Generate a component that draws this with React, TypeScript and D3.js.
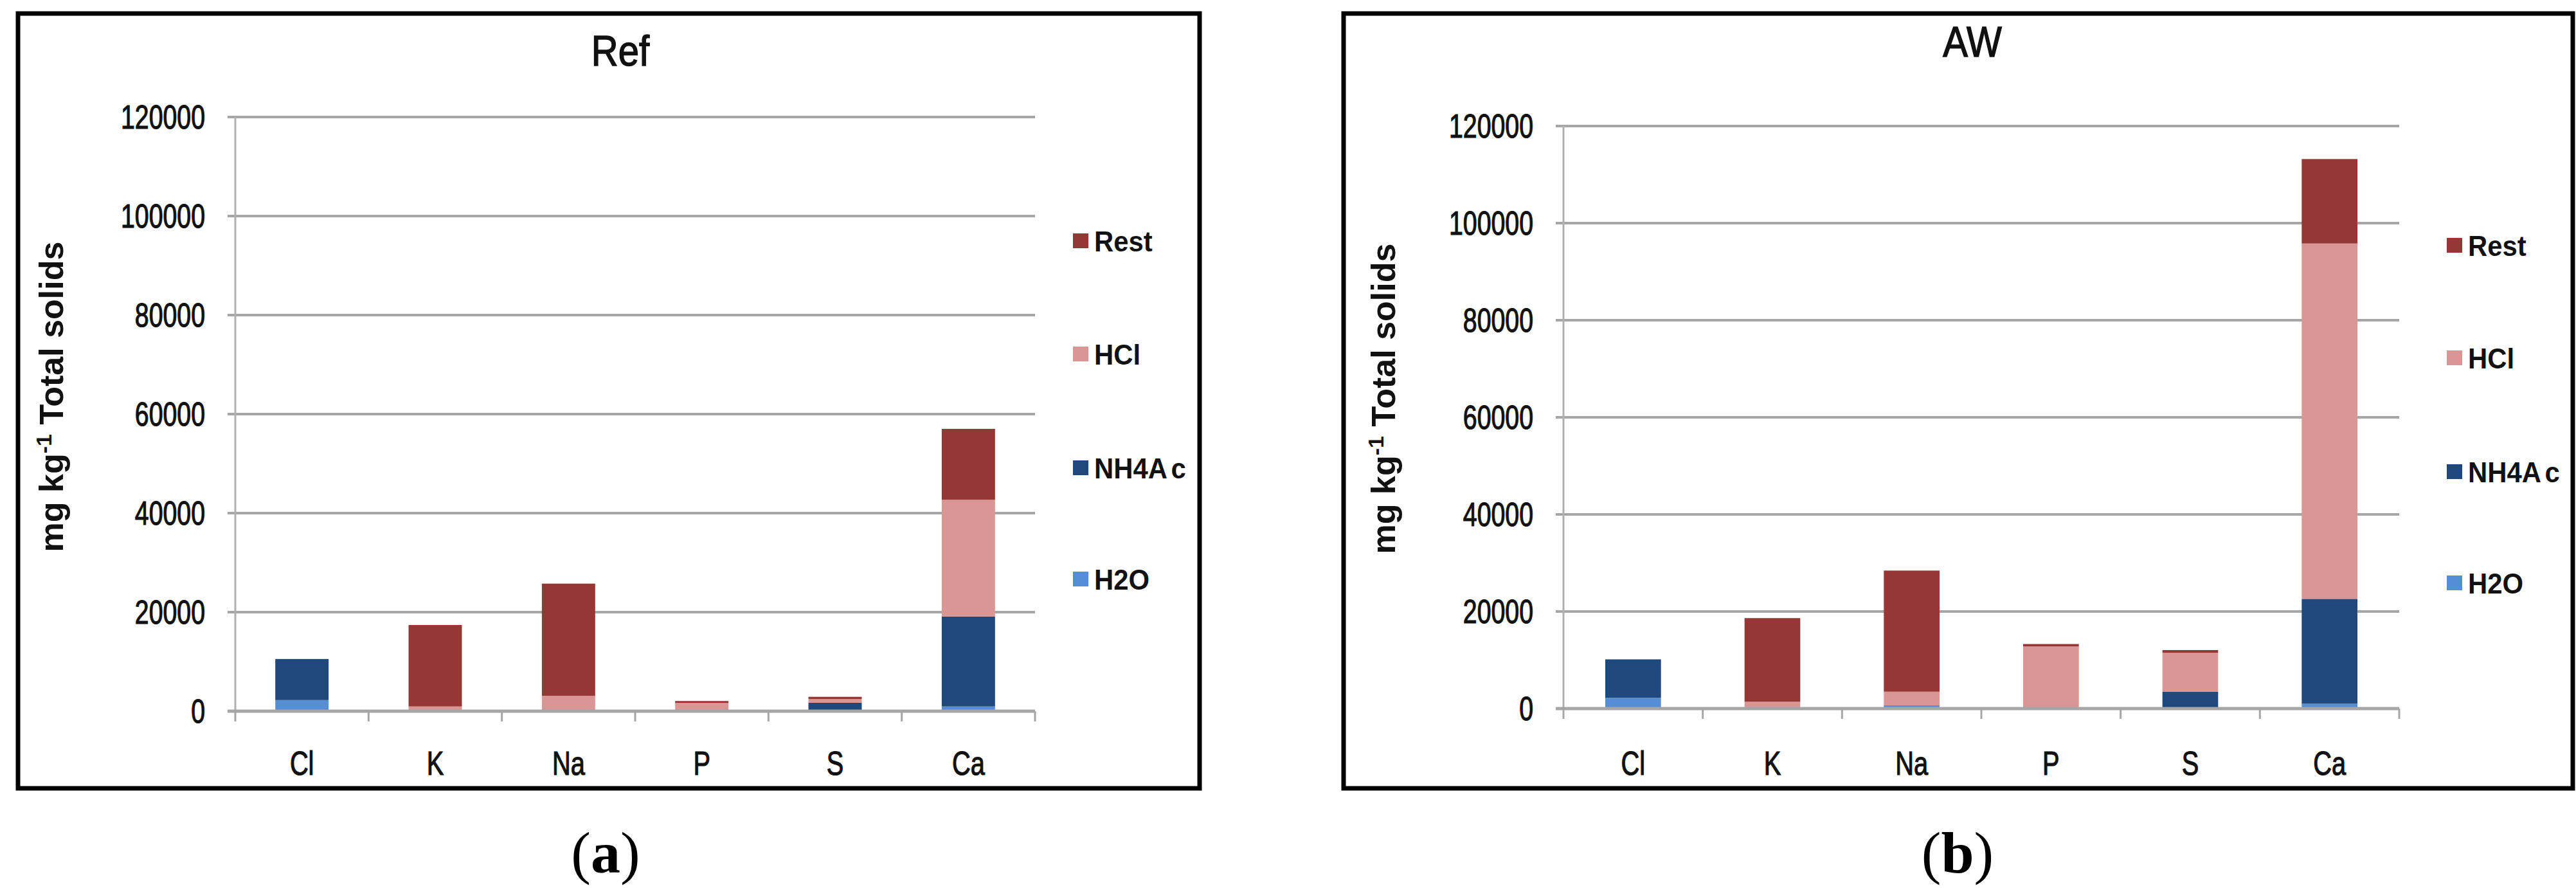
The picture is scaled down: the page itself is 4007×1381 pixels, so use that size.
import { useEffect, useRef } from 'react'
import * as d3 from 'd3'

const elements = ['Cl', 'K', 'Na', 'P', 'S', 'Ca']
const fractions = ['H2O', 'NH4Ac', 'HCl', 'Rest']
const legendOrder = ['Rest', 'HCl', 'NH4Ac', 'H2O']
const yTicks = [0, 20000, 40000, 60000, 80000, 100000, 120000]

// Ref sludge, mg/kg total solids per extraction step
const refH2O = [2240, 0, 0, 0, 0, 950]
const refNH4Ac = [8300, 0, 0, 0, 1700, 18170]
const refHCl = [0, 950, 3100, 1650, 750, 23580]
const refRest = [0, 16450, 22660, 400, 450, 14320]

// AW sludge
const awH2O = [2200, 0, 660, 0, 0, 1000]
const awNH4Ac = [7940, 0, 0, 0, 3500, 21600]
const awHCl = [0, 1410, 2820, 12800, 8000, 73200]
const awRest = [0, 17230, 24950, 500, 550, 17400]

const colors: Record<string, string> = {
  H2O: '#558ed5',
  NH4Ac: '#1f487c',
  HCl: '#d99694',
  Rest: '#953735',
}

interface PanelLayout {
  title: string
  label: string
  frame: [number, number, number, number]
  left: number
  right: number
  top: number
  bottom: number
  titleX: number
  titleY: number
  yLabelX: number
  yLabelY: number
  legendX: number
  legendYs: number[]
  tagX: number
}

const panels: { layout: PanelLayout; series: number[][] }[] = [
  {
    layout: {
      title: 'Ref',
      label: 'a',
      frame: [28, 21, 1866, 1226],
      left: 366,
      right: 1610,
      top: 182,
      bottom: 1106,
      titleX: 965,
      titleY: 102,
      yLabelX: 80,
      yLabelY: 617,
      legendX: 1669,
      legendYs: [375, 551, 728, 901],
      tagX: 942,
    },
    series: [refH2O, refNH4Ac, refHCl, refRest],
  },
  {
    layout: {
      title: 'AW',
      label: 'b',
      frame: [2090, 21, 4002, 1226],
      left: 2432,
      right: 3732,
      top: 196,
      bottom: 1102,
      titleX: 3068,
      titleY: 88,
      yLabelX: 2152,
      yLabelY: 620,
      legendX: 3806,
      legendYs: [382, 557, 734, 907],
      tagX: 3045,
    },
    series: [awH2O, awNH4Ac, awHCl, awRest],
  },
]

const sans = 'Liberation Sans, Arial, sans-serif'

function drawPanel(
  svg: d3.Selection<SVGSVGElement, unknown, null, undefined>,
  layout: PanelLayout,
  series: number[][]
) {
  const g = svg.append('g')
  const [fx0, fy0, fx1, fy1] = layout.frame

  g.append('rect')
    .attr('x', fx0)
    .attr('y', fy0)
    .attr('width', fx1 - fx0)
    .attr('height', fy1 - fy0)
    .attr('fill', '#fff')
    .attr('stroke', '#000')
    .attr('stroke-width', 7)

  const x = d3
    .scaleBand<string>()
    .domain(elements)
    .range([layout.left, layout.right])
    .paddingInner(0.6)
    .paddingOuter(0.3)

  const y = d3.scaleLinear().domain([0, 120000]).range([layout.bottom, layout.top])

  // gridlines
  g.selectAll('.grid')
    .data(yTicks.filter((t) => t > 0))
    .enter()
    .append('line')
    .attr('x1', layout.left - 12)
    .attr('x2', layout.right)
    .attr('y1', (d) => y(d))
    .attr('y2', (d) => y(d))
    .style('stroke', '#a6a6a6')
    .style('stroke-width', 4)

  // y axis
  g.append('line')
    .attr('x1', layout.left)
    .attr('x2', layout.left)
    .attr('y1', y(120000))
    .attr('y2', y(0))
    .style('stroke', '#b0b0b0')
    .style('stroke-width', 3)

  g.selectAll('.ytick')
    .data(yTicks)
    .enter()
    .append('text')
    .attr('transform', (d) => `translate(${layout.left - 47},${y(d) + 18}) scale(0.77,1)`)
    .attr('text-anchor', 'end')
    .style('font-family', sans)
    .style('font-size', '51px')
    .style('fill', '#111')
    .style('stroke', '#111')
    .style('stroke-width', 1.2)
    .text((d) => String(d))

  // stacked bars
  const rows = elements.map((el, i) => {
    const row: Record<string, number | string> = { el }
    fractions.forEach((f, k) => {
      row[f] = series[k][i]
    })
    return row
  })
  const stacked = d3
    .stack<Record<string, number | string>>()
    .keys(fractions)
    .value((d, key) => d[key] as number)(rows)

  g.selectAll('.layer')
    .data(stacked)
    .enter()
    .append('g')
    .attr('fill', (d) => colors[d.key])
    .selectAll('rect')
    .data((d) => d)
    .enter()
    .append('rect')
    .attr('x', (d) => x(d.data.el as string) as number)
    .attr('width', x.bandwidth())
    .attr('y', (d) => y(d[1]))
    .attr('height', (d) => y(d[0]) - y(d[1]))

  // x axis
  g.append('line')
    .attr('x1', layout.left - 12)
    .attr('x2', layout.right)
    .attr('y1', y(0))
    .attr('y2', y(0))
    .style('stroke', '#a6a6a6')
    .style('stroke-width', 5)

  const step = x.step()
  g.selectAll('.xtick')
    .data(d3.range(elements.length + 1))
    .enter()
    .append('line')
    .attr('x1', (i) => layout.left + i * step)
    .attr('x2', (i) => layout.left + i * step)
    .attr('y1', y(0))
    .attr('y2', y(0) + 16)
    .style('stroke', '#a6a6a6')
    .style('stroke-width', 3)

  g.selectAll('.xlabel')
    .data(elements)
    .enter()
    .append('text')
    .attr('transform', (d) => `translate(${(x(d) as number) + x.bandwidth() / 2},1205) scale(0.78,1)`)
    .attr('text-anchor', 'middle')
    .style('font-family', sans)
    .style('font-size', '51px')
    .style('fill', '#111')
    .style('stroke', '#111')
    .style('stroke-width', 1.2)
    .text((d) => d)

  // title
  g.append('text')
    .attr('transform', `translate(${layout.titleX},${layout.titleY}) scale(0.88,1)`)
    .attr('text-anchor', 'middle')
    .style('font-family', sans)
    .style('font-size', '66px')
    .style('fill', '#111')
    .style('stroke', '#111')
    .style('stroke-width', 1.5)
    .text(layout.title)

  // y label
  const yl = g
    .append('text')
    .attr('transform', `translate(${layout.yLabelX + 18},${layout.yLabelY}) rotate(-90)`)
    .attr('text-anchor', 'middle')
    .style('font-family', sans)
    .style('font-weight', 'bold')
    .style('font-size', '52px')
    .style('fill', '#111')
  yl.append('tspan').text('mg kg')
  yl.append('tspan').attr('dy', -18).style('font-size', '34px').text('-1')
  yl.append('tspan').attr('dy', 18).text(' Total solids')

  // legend
  legendOrder.forEach((key, i) => {
    const cy = layout.legendYs[i]
    g.append('rect')
      .attr('x', layout.legendX)
      .attr('y', cy - 12)
      .attr('width', 24)
      .attr('height', 23)
      .attr('fill', colors[key])
    const t = g
      .append('text')
      .attr('transform', `translate(${layout.legendX + 33},${cy + 16}) scale(0.93,1)`)
      .style('font-family', sans)
      .style('font-weight', 'bold')
      .style('font-size', '45px')
      .style('fill', '#111')
    if (key === 'NH4Ac') {
      t.append('tspan').text('NH4A')
      t.append('tspan').attr('dx', 6).text('c')
    } else {
      t.text(key)
    }
  })

  // panel tag
  const tag = svg
    .append('text')
    .attr('x', layout.tagX)
    .attr('y', 1357)
    .attr('text-anchor', 'middle')
    .style('font-family', 'Liberation Serif, Times New Roman, serif')
    .style('font-size', '92px')
    .style('fill', '#000')
  tag.append('tspan').text('(')
  tag.append('tspan').style('font-weight', 'bold').text(layout.label)
  tag.append('tspan').text(')')
}

export default function App() {
  const svgRef = useRef<SVGSVGElement>(null)

  useEffect(() => {
    if (!svgRef.current) return
    const svg = d3.select(svgRef.current)
    svg.selectAll('*').remove()

    svg.append('rect').attr('width', 4007).attr('height', 1381).attr('fill', '#fff')
    panels.forEach((p) => drawPanel(svg, p.layout, p.series))
  }, [])

  return (
    <svg
      ref={svgRef}
      width={4007}
      height={1381}
      style={{ position: 'absolute', left: 0, top: 0, display: 'block' }}
    />
  )
}
